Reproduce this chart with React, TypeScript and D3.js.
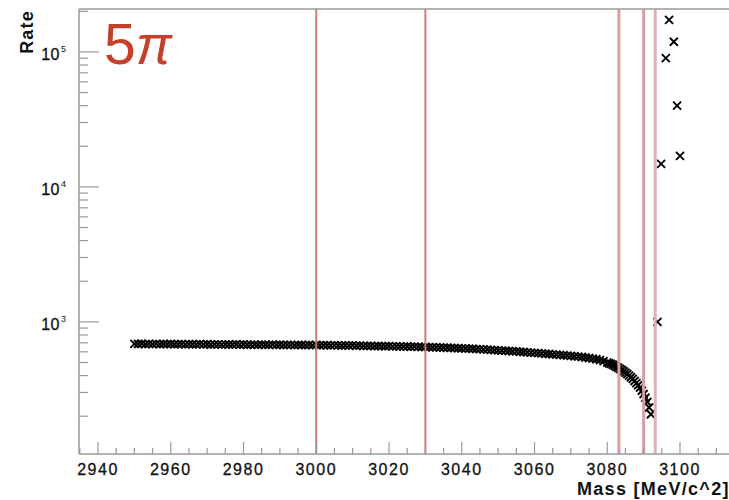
import React from "react";
import * as d3 from "d3";

// ---- data ----
const binStart = 2950; // first mass of the dense scan (MeV/c^2), 1 MeV bins
const scanRates: number[] = [
  688, 686, 689, 685, 687, 684, 688, 685, 686, 684,
  686, 683, 685, 684, 682, 685, 683, 681, 684, 682,
  683, 680, 682, 681, 679, 682, 680, 678, 681, 679,
  680, 677, 679, 678, 676, 679, 677, 675, 678, 676,
  677, 674, 676, 675, 673, 676, 674, 672, 675, 673,
  674, 671, 673, 671, 669, 672, 670, 668, 670, 668,
  669, 666, 667, 665, 664, 665, 662, 663, 661, 660,
  661, 658, 659, 657, 656, 657, 654, 655, 653, 652,
  652, 650, 649, 648, 646, 645, 643, 642, 640, 638,
  637, 635, 633, 632, 629, 628, 625, 623, 620, 618,
  615, 613, 611, 609, 606, 604, 601, 598, 595, 592,
  589, 587, 584, 581, 578, 575, 572, 569, 566, 563,
  560, 556, 553, 549, 545, 540, 535, 529, 522, 512,
  500, 488, 473, 457, 440, 421, 400, 378, 352, 326,
  292, 255, 207,
];
// extra finer-spaced points along the steep tail
const tailMasses: number[] = [3080.5, 3081.5, 3082.5, 3083.5, 3084.5, 3085.5, 3086.5, 3087.5, 3088.5, 3089.5, 3090.5, 3091.5];
const tailRates: number[] = [494, 481, 465, 449, 431, 411, 389, 365, 339, 309, 274, 232];
const peakMasses: number[] = [3093.8, 3094.8, 3096.1, 3097.0, 3098.3, 3099.2, 3100.0];
const peakRates: number[] = [1000, 14800, 90000, 173000, 119000, 40000, 17000];
const markerLines: number[] = [3000, 3030, 3083.2, 3090, 3093.2];
const markerLineColors: string[] = ["#cf7a7a", "#cf7a7a", "#dc9e9e", "#dc9e9e", "#d8b4b4"];
const markerLineWidths: number[] = [2, 2, 3, 3, 3];
const xMajorTicks: number[] = [2940, 2960, 2980, 3000, 3020, 3040, 3060, 3080, 3100];
const yMajorExps: number[] = [3, 4, 5];

export default function App() {
  const W = 729, H = 500;
  const left = 79, right = 740, top = 9, bottom = 454;
  const x = d3.scaleLinear().domain([2940, 3100]).range([98, 680]);
  const y = d3.scaleLog().domain([105, 2.08e5]).range([bottom, top]);
  const xMin = x.invert(left), xMax = x.invert(right);

  const pts: { m: number; r: number }[] = scanRates.map((r, i) => ({ m: binStart + i, r }));
  tailMasses.forEach((m, i) => pts.push({ m, r: tailRates[i] }));
  peakMasses.forEach((m, i) => pts.push({ m, r: peakRates[i] }));

  const xMinor = d3.range(Math.ceil(xMin / 5) * 5, xMax, 5).filter((v) => v % 20 !== 0);
  const yMinor: number[] = [];
  for (let e = 2; e <= 5; e++) for (let k = 2; k <= 9; k++) {
    const v = k * Math.pow(10, e);
    if (v > 105 && v < 2.08e5) yMinor.push(v);
  }
  const axisCol = "#9a9a9a";
  const font = "'Liberation Sans', Arial, sans-serif";
  const s = 4;

  return (
    <svg width={W} height={H} style={{ position: "absolute", left: 0, top: 0, background: "#fff" }}>
      <rect x={0} y={0} width={W} height={H} fill="#fff" />
      {/* markers */}
      <g stroke="#000" strokeWidth={1.9}>
        {pts.map((p, i) => {
          const cx = x(p.m), cy = y(p.r);
          return (
            <path key={i} d={`M${cx - s},${cy - s}L${cx + s},${cy + s}M${cx - s},${cy + s}L${cx + s},${cy - s}`} />
          );
        })}
      </g>
      {/* vertical marker lines */}
      {markerLines.map((m, i) => (
        <line key={i} x1={x(m)} x2={x(m)} y1={top} y2={bottom} stroke={markerLineColors[i]} strokeWidth={markerLineWidths[i]} />
      ))}
      {/* frame */}
      <line x1={left} x2={right} y1={top} y2={top} stroke={axisCol} strokeWidth={1.5} />
      <line x1={left} x2={left} y1={top} y2={bottom} stroke={axisCol} strokeWidth={1.5} />
      <line x1={left} x2={right} y1={bottom} y2={bottom} stroke={axisCol} strokeWidth={1.5} />
      {/* x ticks */}
      {xMajorTicks.map((t) => (
        <g key={t}>
          <line x1={x(t)} x2={x(t)} y1={bottom} y2={bottom - 12} stroke={axisCol} strokeWidth={1.2} />
          <text x={x(t)} y={475} textAnchor="middle" fontFamily={font} fontSize={16} letterSpacing={1.5} fill="#111" stroke="#111" strokeWidth={0.3}>{t}</text>
        </g>
      ))}
      {xMinor.map((t) => (
        <line key={t} x1={x(t)} x2={x(t)} y1={bottom} y2={bottom - 6} stroke={axisCol} strokeWidth={1.2} />
      ))}
      {/* y ticks */}
      {yMajorExps.map((e) => {
        const yy = y(Math.pow(10, e));
        return (
          <g key={e}>
            <line x1={left} x2={left + 20} y1={yy} y2={yy} stroke={axisCol} strokeWidth={1.2} />
            <text x={60} y={yy + 8} textAnchor="end" fontFamily={font} fontSize={16} letterSpacing={0.5} fill="#111" stroke="#111" strokeWidth={0.3}>10</text>
            <text x={61} y={yy - 0} textAnchor="start" fontFamily={font} fontSize={9} fill="#111">{e}</text>
          </g>
        );
      })}
      {yMinor.map((v) => (
        <line key={v} x1={left} x2={left + 9} y1={y(v)} y2={y(v)} stroke={axisCol} strokeWidth={1.2} />
      ))}
      {/* axis titles */}
      <text x={577} y={495} fontFamily={font} fontSize={18} fontWeight="bold" letterSpacing={1.3} fill="#111">Mass [MeV/c^2]</text>
      <text transform="translate(33,10) rotate(-90)" textAnchor="end" fontFamily={font} fontSize={18} fontWeight="bold" letterSpacing={1.2} fill="#111">Rate</text>
      {/* label */}
      <text x={104} y={64} fontFamily={font} fontSize={57} fill="#c4402a">
        5<tspan fontStyle="italic" fontSize={54}>π</tspan>
      </text>
    </svg>
  );
}
